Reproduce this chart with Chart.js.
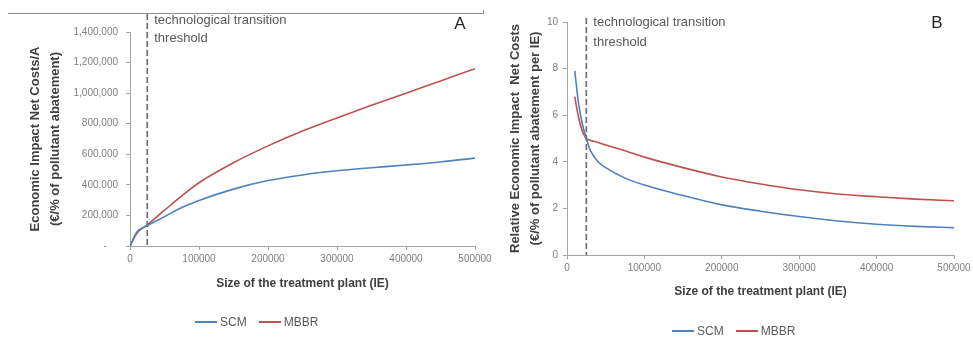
<!DOCTYPE html>
<html>
<head>
<meta charset="utf-8">
<script src="https://cdn.jsdelivr.net/npm/chart.js@4.4.1/dist/chart.umd.min.js"></script>
<style>
  html,body{margin:0;padding:0;background:#fff;}
  body{width:973px;height:337px;position:relative;overflow:hidden;font-family:'Liberation Sans',Arial,sans-serif;}
  .pane{position:absolute;top:0;height:337px;}
  #paneA{left:0;width:500px;}
  #paneB{left:485px;width:488px;}
  .lgd{position:absolute;display:flex;align-items:center;font-size:12px;color:#595959;white-space:nowrap;}
  .lgd span.ln{display:inline-block;width:22px;height:2px;margin-right:3px;}
  .lgd span.it{display:flex;align-items:center;margin-right:12px;}
</style>
</head>
<body>
<div class="pane" id="paneA"><canvas id="cA"></canvas></div>
<div class="pane" id="paneB"><canvas id="cB"></canvas></div>
<div class="lgd" id="lgA" style="left:195px;top:315px;"></div>
<div class="lgd" id="lgB" style="left:672px;top:324px;"></div>
<script>
// ── Data ─────────────────────────────────────────────────────────────────────
const THRESHOLD=25000;
const sizeA=[0,10000,25000,50000,75000,100000,150000,200000,250000,300000,350000,400000,450000,500000];
const scmA =[0,92000,134000,192000,252000,298000,372000,428000,465000,492000,512000,530000,550000,575000];
const mbbrA=[0,84000,138000,234000,328000,414000,545000,655000,752000,838000,920000,1000000,1080000,1160000];

const sizeB=[10000,15000,20000,25000,30000,40000,50000,75000,100000,150000,200000,250000,300000,350000,400000,450000,500000];
const scmB =[7.9,6.5,5.6,5.0,4.5,4.0,3.75,3.3,3.0,2.55,2.15,1.88,1.65,1.46,1.32,1.23,1.17];
const mbbrB=[6.8,5.9,5.3,5.0,4.93,4.83,4.72,4.47,4.2,3.75,3.35,3.05,2.8,2.62,2.5,2.4,2.33];

const xTicks=[0,100000,200000,300000,400000,500000];
const yMaxA=1400000, yStepA=200000;
const yMaxB=10, yStepB=2;

const labels=['SCM','MBBR'];
const colors=['#4f81bd','#c0504d'];
const noteLines=['technological transition','threshold'];

// ── Helpers ──────────────────────────────────────────────────────────────────
const FONT="'Liberation Sans', Arial, sans-serif";
const pts=(xs,ys)=>xs.map((x,i)=>({x,y:ys[i]}));

function mkDataset(i,xs,ys){
  return {label:labels[i],data:pts(xs,ys),borderColor:colors[i],borderWidth:1.6,
    pointRadius:0,fill:false,cubicInterpolationMode:'monotone'};
}

const decor={id:'decor',afterDatasetsDraw(chart,args,o){
  const cx=chart.ctx, xs=chart.scales.x, area=chart.chartArea;
  const px=xs.getPixelForValue(THRESHOLD);
  cx.save();
  if (o.frame) {
    cx.strokeStyle='#8c8c8c'; cx.lineWidth=1; cx.beginPath();
    cx.moveTo(o.frame[0],o.frame[2]+0.5); cx.lineTo(o.frame[1],o.frame[2]+0.5);
    cx.moveTo(o.frame[1]-0.5,o.frame[2]-3); cx.lineTo(o.frame[1]-0.5,o.frame[2]+1); cx.stroke();
  }
  cx.strokeStyle='#6f6f6f'; cx.lineWidth=1.7; cx.setLineDash([6,3]);
  cx.beginPath(); cx.moveTo(px,o.lineTop); cx.lineTo(px,area.bottom); cx.stroke();
  cx.setLineDash([]);
  cx.fillStyle='#595959'; cx.font='13px '+FONT; cx.textBaseline='middle'; cx.textAlign='left';
  noteLines.forEach((t,i)=>cx.fillText(t,px+7,o.noteY+i*o.noteGap));
  cx.fillStyle='#262626'; cx.font='17px '+FONT; cx.textAlign='center';
  cx.fillText(o.letter,o.letterX,o.letterY);
  cx.restore();
}};

function mkChart(id,ds,cfg){
  return new Chart(document.getElementById(id),{
    type:'line',plugins:[decor],
    data:{datasets:ds},
    options:{responsive:true,maintainAspectRatio:false,animation:false,
      layout:{padding:cfg.pad},
      plugins:{legend:{display:false},tooltip:{enabled:false},decor:cfg.decor},
      scales:{
        x:{type:'linear',min:0,max:500000,
          afterBuildTicks:s=>{s.ticks=xTicks.map(v=>({value:v}));},
          afterFit:s=>{s.height=cfg.xH;s.paddingLeft=0;s.paddingRight=0;},
          border:{color:'#a6a6a6',width:1},
          grid:{display:true,drawOnChartArea:false,drawTicks:true,tickLength:4,color:'#a6a6a6'},
          ticks:{color:'#7f7f7f',font:{family:FONT,size:10},padding:3,maxRotation:0,autoSkip:false,callback:v=>String(v)},
          title:{display:true,text:'Size of the treatment plant (IE)',color:'#404040',
            font:{family:FONT,size:12,weight:'bold'},padding:{top:0,bottom:0}}},
        y:{min:0,max:cfg.yMax,
          afterFit:s=>{s.width=cfg.yW;s.paddingTop=0;s.paddingBottom=0;},
          border:{color:'#a6a6a6',width:1},
          grid:{display:true,drawOnChartArea:false,drawTicks:true,tickLength:4,color:'#a6a6a6'},
          ticks:{stepSize:cfg.yStep,color:'#7f7f7f',font:{family:FONT,size:10},padding:cfg.yPad,callback:cfg.yFmt},
          title:{display:true,text:cfg.yTitle,color:'#404040',
            font:{family:FONT,size:13,weight:'bold',lineHeight:1.55},padding:{top:cfg.yTitlePad,bottom:0}}}
      }}
  });
}

mkChart('cA',[mkDataset(0,sizeA,scmA),mkDataset(1,sizeA,mbbrA)],{
  pad:{left:0,right:25,top:32,bottom:46},xH:45,yW:130,yPad:8,yMax:yMaxA,yStep:yStepA,
  yFmt:v=>v===0?'-    ':v.toLocaleString('en-US'),
  yTitle:['Economic Impact Net Costs/A','(€/% of pollutant abatement)'],yTitlePad:25,
  decor:{lineTop:14,noteY:20,noteGap:18,letter:'A',letterX:460,letterY:24,frame:[8,484,13]}
});

mkChart('cB',[mkDataset(0,sizeB,scmB),mkDataset(1,sizeB,mbbrB)],{
  pad:{left:0,right:19,top:22,bottom:38},xH:44,yW:82,yPad:5,yMax:yMaxB,yStep:yStepB,
  yFmt:v=>String(v),
  yTitle:['Relative Economic Impact  Net Costs','(€/% of pollutant abatement per IE)'],yTitlePad:20,
  decor:{lineTop:18,noteY:22,noteGap:20,letter:'B',letterX:452,letterY:23}
});

// ── Legends ──────────────────────────────────────────────────────────────────
['lgA','lgB'].forEach(id=>{
  document.getElementById(id).innerHTML=labels.map((l,i)=>
    '<span class="it"><span class="ln" style="background:'+colors[i]+'"></span>'+l+'</span>').join('');
});
</script>
</body>
</html>
